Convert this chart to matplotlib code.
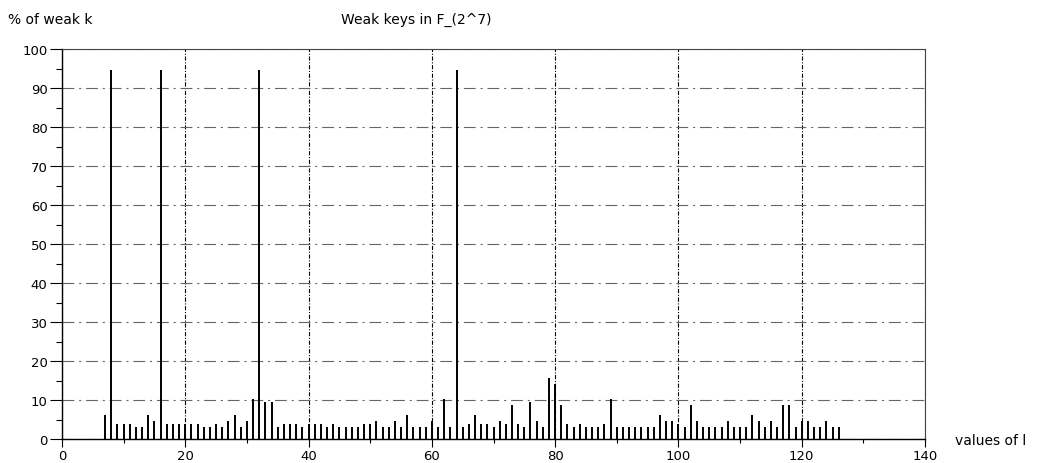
import matplotlib
matplotlib.use('Agg')
import matplotlib.pyplot as plt
from matplotlib.ticker import MultipleLocator
import numpy as np

plt.rcParams['font.family'] = ['DejaVu Sans']
plt.rcParams['lines.scale_dashes'] = False

# values of l and the % of weak keys for each
l_values = list(range(7, 127))
weak_pct = [
    6.25, 94.5, 3.9, 3.9, 3.9, 3.1, 3.1, 6.25, 4.7, 94.5,      # 7-16
    3.9, 3.9, 3.9, 3.9, 3.9, 3.9, 3.1, 3.1, 3.9, 3.1,          # 17-26
    4.7, 6.25, 3.1, 4.7, 10.2, 94.5, 9.4, 9.4, 3.1, 3.9,       # 27-36
    3.9, 3.9, 3.1, 3.9, 3.9, 3.9, 3.1, 3.9, 3.1, 3.1,          # 37-46
    3.1, 3.1, 3.9, 3.9, 4.7, 3.1, 3.1, 4.7, 3.1, 6.25,         # 47-56
    3.1, 3.1, 3.1, 4.7, 3.1, 10.2, 3.1, 94.5, 3.1, 3.9,        # 57-66
    6.25, 3.9, 3.9, 3.1, 4.7, 3.9, 8.6, 3.9, 3.1, 9.4,         # 67-76
    4.7, 3.1, 15.6, 14.1, 8.6, 3.9, 3.1, 3.9, 3.1, 3.1,        # 77-86
    3.1, 3.9, 10.2, 3.1, 3.1, 3.1, 3.1, 3.1, 3.1, 3.1,         # 87-96
    6.25, 4.7, 4.7, 3.9, 3.1, 8.6, 4.7, 3.1, 3.1, 3.1,         # 97-106
    3.1, 4.7, 3.1, 3.1, 3.1, 6.25, 4.7, 3.1, 4.7, 3.1,         # 107-116
    8.6, 8.6, 3.1, 4.7, 4.7, 3.1, 3.1, 4.7, 3.1, 3.1,          # 117-126
]

W, H = 1040, 464
fig = plt.figure(figsize=(W / 100, H / 100), dpi=100)
ax = fig.add_axes([62 / W, 1 - 440 / H, (925 - 62) / W, (440 - 50) / H])

ax.vlines(l_values, 0, weak_pct, color='black', lw=1.4)

ax.set_xlim(0, 140)
ax.set_ylim(0, 100)
ax.xaxis.set_major_locator(MultipleLocator(20))
ax.xaxis.set_minor_locator(MultipleLocator(10))
ax.yaxis.set_major_locator(MultipleLocator(10))
ax.yaxis.set_minor_locator(MultipleLocator(5))

ax.tick_params(axis='x', which='major', direction='out', length=6, width=0.8, pad=1.5, labelsize=9.5)
ax.tick_params(axis='x', which='minor', direction='out', length=3, width=0.8)
ax.tick_params(axis='y', which='major', direction='out', length=8.5, width=0.8, pad=2, labelsize=9.5)
ax.tick_params(axis='y', which='minor', direction='out', length=4.3, width=0.8)

# grid: dark short dash-dot verticals, grey long dash-dot horizontals
ax.grid(True, axis='x', which='major', color='black', lw=0.8, linestyle=(0, (3, 1.2, 0.8, 1.2)))
ax.grid(True, axis='y', which='major', color='#666666', lw=0.8, linestyle=(0, (8.5, 3.5, 1.5, 3.5)))
ax.set_axisbelow(True)

for side in ['left', 'bottom']:
    ax.spines[side].set_linewidth(1.0)
    ax.spines[side].set_color('black')
for side in ['top', 'right']:
    ax.spines[side].set_linewidth(0.8)
    ax.spines[side].set_color('#444444')

fig.text(8 / W, 1 - 20 / H, '% of weak k', fontsize=10, va='center', ha='left')
fig.text(416 / W, 1 - 20 / H, 'Weak keys in F_(2^7)', fontsize=10, va='center', ha='center')
fig.text(955 / W, 1 - 441 / H, 'values of l', fontsize=10, va='center', ha='left')

fig.savefig('out.png', dpi=100)
